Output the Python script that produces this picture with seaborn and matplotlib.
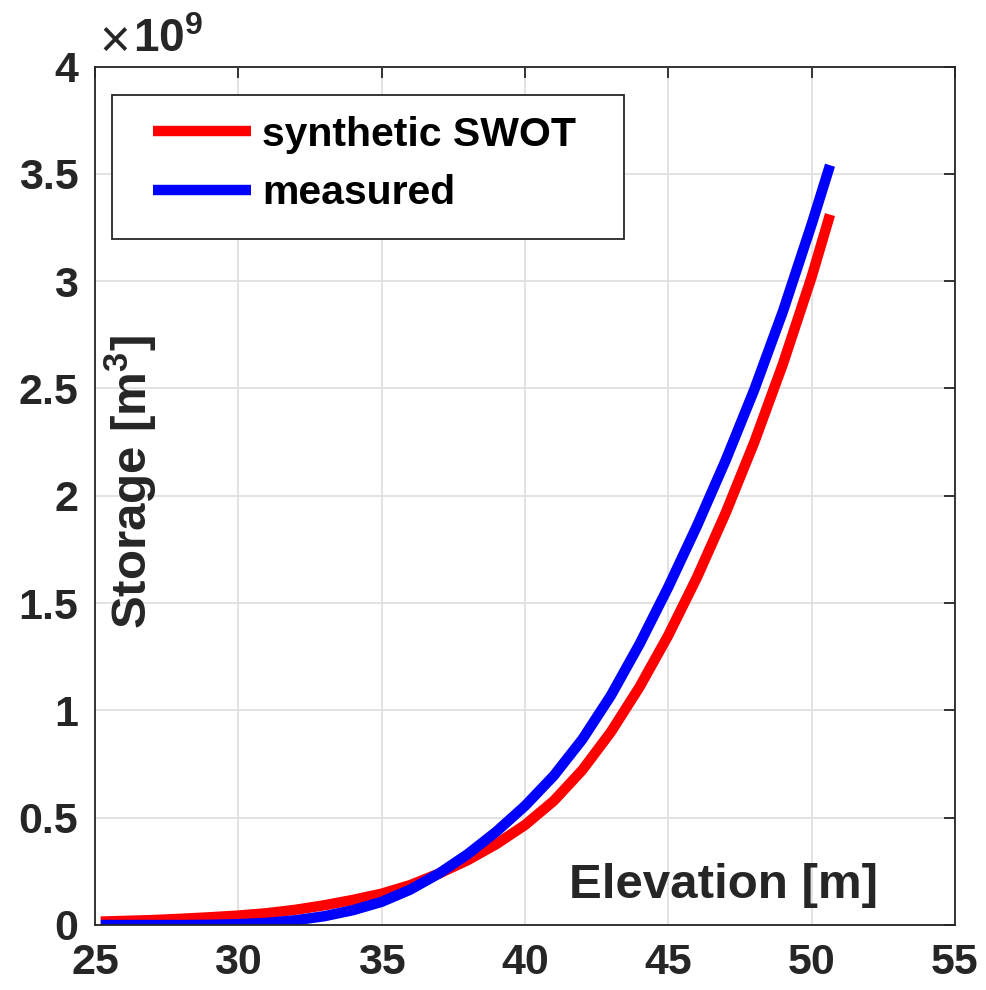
import matplotlib
matplotlib.use("Agg")
import matplotlib.pyplot as plt
import seaborn as sns
import pandas as pd
from matplotlib.ticker import FixedLocator, FuncFormatter
from matplotlib.patches import Rectangle
from matplotlib.legend_handler import HandlerLine2D

# Elevation [m]
elevation = [25.2, 26, 27, 28, 29, 30, 31, 32, 33, 34, 35, 36, 37, 38, 39, 40,
             41, 42, 43, 44, 45, 46, 47, 48, 49, 50, 50.64]
# Storage in units of 1e9 m^3
synthetic_swot = [0.016, 0.019, 0.023, 0.029, 0.036, 0.044, 0.055, 0.071, 0.092,
                  0.117, 0.146, 0.186, 0.240, 0.302, 0.377, 0.466, 0.578, 0.722,
                  0.900, 1.110, 1.350, 1.620, 1.920, 2.250, 2.615, 3.020, 3.310]
measured = [0.000, 0.000, 0.000, 0.000, 0.001, 0.004, 0.010, 0.022, 0.041,
            0.069, 0.108, 0.165, 0.240, 0.330, 0.435, 0.555, 0.695, 0.865,
            1.070, 1.310, 1.575, 1.860, 2.165, 2.495, 2.860, 3.265, 3.540]
series_names = ["synthetic SWOT", "measured"]
series_colors = ["#ff0000", "#0000ff"]
x_ticks = [25, 30, 35, 40, 45, 50, 55]
y_ticks = [0, 0.5, 1, 1.5, 2, 2.5, 3, 3.5, 4]

df = pd.concat([
    pd.DataFrame({"Elevation": elevation, "Storage": synthetic_swot, "series": series_names[0]}),
    pd.DataFrame({"Elevation": elevation, "Storage": measured, "series": series_names[1]}),
])

sns.set_style("white")
plt.rcParams["font.family"] = ["Liberation Sans", "DejaVu Sans"]
plt.rcParams["mathtext.default"] = "regular"

W, H = 986, 990
fig = plt.figure(figsize=(W/100, H/100), dpi=100)
L, R, T, B = 95, 955, 66.5, 925
ax = fig.add_axes([L/W, 1-B/H, (R-L)/W, (B-T)/H])

def ax_x(px):
    return (px - L) / (R - L)

def ax_y(py):
    return (B - py) / (B - T)

sns.lineplot(data=df, x="Elevation", y="Storage", hue="series",
             palette=dict(zip(series_names, series_colors)), linewidth=7.5,
             sort=False, ax=ax, legend=False, solid_capstyle="butt",
             solid_joinstyle="round")

ax.set_xlim(25, 55)
ax.set_ylim(0, 4)
ax.xaxis.set_major_locator(FixedLocator(x_ticks))
ax.yaxis.set_major_locator(FixedLocator(y_ticks))
ax.yaxis.set_major_formatter(FuncFormatter(lambda v, p: f"{v:g}"))
ax.xaxis.set_major_formatter(FuncFormatter(lambda v, p: f"{v:g}"))

tc = "#262626"
ax.grid(True, color="#dedede", linewidth=1.2)
ax.set_axisbelow(True)
for s in ax.spines.values():
    s.set_visible(True)
    s.set_color(tc)
    s.set_linewidth(1.3)
ax.tick_params(axis="both", which="major", direction="in", length=8, width=1.3,
               top=True, right=True, colors=tc, labelsize=31)
ax.tick_params(axis="x", pad=13)
ax.tick_params(axis="y", pad=12)
for lab in ax.get_xticklabels() + ax.get_yticklabels():
    lab.set_fontweight("bold")
    lab.set_color(tc)

ax.set_xlabel("Elevation [m]", fontsize=35.5, fontweight="bold", color=tc)
ax.xaxis.set_label_coords(ax_x(724), ax_y(885))
ax.xaxis.label.set_va("center")
ax.set_ylabel("Storage [m$^3$]", fontsize=35.5, fontweight="bold", color=tc)
ax.yaxis.set_label_coords(ax_x(131), ax_y(482))
ax.yaxis.label.set_va("center")

fig.text(99/W, 1-44/H, "\u00d7", fontsize=38, color=tc, va="center", ha="left")
fig.text(133/W, 1-40/H, "10$^9$", fontsize=33, fontweight="bold", color=tc,
         va="center", ha="left")

# legend frame
frame = Rectangle((ax_x(112), ax_y(239)), ax_x(624) - ax_x(112), ax_y(95) - ax_y(239),
                  transform=ax.transAxes, facecolor="white", edgecolor=tc,
                  linewidth=1.3, zorder=4)
ax.add_patch(frame)

leg_fs = 29.5
fs_px = leg_fs * 100 / 72
handles = [plt.Line2D([], [], color=c, linewidth=7.5, solid_capstyle="butt")
           for c in series_colors]
start_px = 140
leg = ax.legend(handles, series_names, loc="center left",
                bbox_to_anchor=(ax_x(start_px), ax_y(164)),
                prop={"size": leg_fs, "weight": "bold"}, frameon=False,
                handlelength=(251 - start_px) / fs_px,
                handletextpad=11 / fs_px, borderpad=0,
                labelspacing=0.5, borderaxespad=0,
                handler_map={plt.Line2D: HandlerLine2D(xpad=(153 - start_px) / fs_px)})
leg.set_zorder(5)
for t in leg.get_texts():
    t.set_color("black")

fig.savefig("out.png", dpi=100)
